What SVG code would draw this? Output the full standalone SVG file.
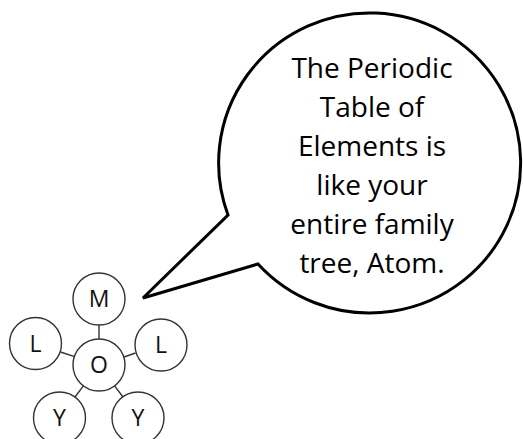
<svg xmlns="http://www.w3.org/2000/svg" width="523" height="439" viewBox="0 0 523 439">
<style>
.atom{fill:#fff;stroke:#333;stroke-width:1.4}
.lbl{font-family:"Open Sans","Liberation Sans",sans-serif;font-size:23px;fill:#111;text-anchor:middle}
.bond{stroke:#333;stroke-width:1.4;fill:none}
.say{font-family:"Open Sans","Liberation Sans",sans-serif;font-size:28px;fill:#000;text-anchor:middle}
</style>
<rect width="523" height="439" fill="#fff"/>
<g id="bubble">
<path d="M258,264 L143,298 L228,215 A151,150 0 1 1 258,264 Z" fill="#fff" stroke="#000" stroke-width="3" stroke-linejoin="miter"/>
<text class="say" x="372" y="78">The Periodic</text>
<text class="say" x="372" y="117">Table of</text>
<text class="say" x="372" y="156">Elements is</text>
<text class="say" x="372" y="195">like your</text>
<text class="say" x="372" y="234">entire family</text>
<text class="say" x="372" y="273">tree, Atom.</text>
</g>
<g id="bonds">
<line class="bond" x1="99" y1="325" x2="99" y2="339"/>
<line class="bond" x1="60.5" y1="352" x2="74.5" y2="356.7"/>
<line class="bond" x1="135.5" y1="353" x2="124" y2="357"/>
<line class="bond" x1="83.4" y1="385.9" x2="75" y2="397"/>
<line class="bond" x1="114.6" y1="385.9" x2="123" y2="397"/>
</g>
<g id="M"><circle class="atom" cx="99" cy="299" r="26"/><text class="lbl" x="99" y="307">M</text></g>
<g id="L1"><circle class="atom" cx="35.5" cy="343.5" r="26"/><text class="lbl" x="35.5" y="351.5">L</text></g>
<g id="L2"><circle class="atom" cx="161" cy="345" r="26"/><text class="lbl" x="161" y="353">L</text></g>
<g id="O"><circle class="atom" cx="99" cy="365" r="26"/><text class="lbl" x="99" y="373">O</text></g>
<g id="Y1"><circle class="atom" cx="59.5" cy="418" r="26"/><text class="lbl" x="59.5" y="426">Y</text></g>
<g id="Y2"><circle class="atom" cx="138" cy="418" r="26"/><text class="lbl" x="138" y="426">Y</text></g>
</svg>
